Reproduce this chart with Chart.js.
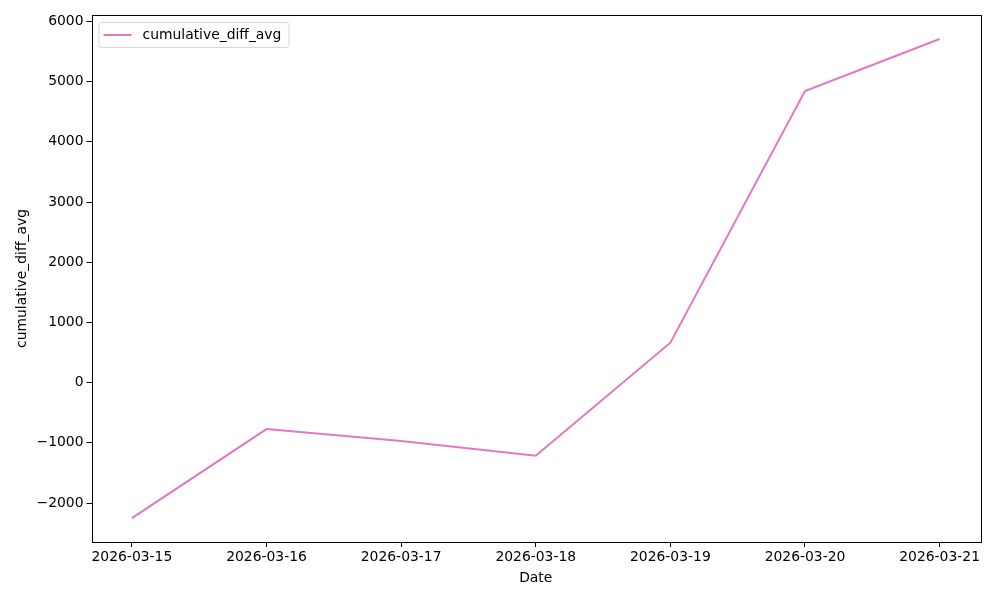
<!DOCTYPE html>
<html>
<head>
<meta charset="utf-8">
<script src="https://cdn.jsdelivr.net/npm/chart.js@4/dist/chart.umd.min.js"></script>
<style>
  html, body { margin: 0; padding: 0; background: #fff; }
  #wrap { width: 1000px; height: 600px; position: relative; }
</style>
</head>
<body>
<div id="wrap"><canvas id="c" width="1000" height="600"></canvas></div>
<script>
const dates = ['2026-03-15','2026-03-16','2026-03-17','2026-03-18','2026-03-19','2026-03-20','2026-03-21'];
const cumulativeDiffAvg = [-2249, -771, -970, -1213, 664, 4844, 5708];
const yTickValues = [-2000, -1000, 0, 1000, 2000, 3000, 4000, 5000, 6000];
const seriesLabel = 'cumulative_diff_avg';
const xTitle = 'Date';
const yTitle = 'cumulative_diff_avg';

const FONT = { family: '"DejaVu Sans", sans-serif', size: 13.9 };
const LINE_COLOR = '#e377c2';

const yLo = Math.min(...cumulativeDiffAvg), yHi = Math.max(...cumulativeDiffAvg);
const yPad = (yHi - yLo) * 0.05;
const xPad = (dates.length - 1) * 0.05;

const points = cumulativeDiffAvg.map((v, i) => ({ x: i, y: v }));

const framePlugin = {
  id: 'frame',
  afterDraw(chart) {
    const { ctx, chartArea: a } = chart;
    ctx.save();
    ctx.strokeStyle = '#000';
    ctx.lineWidth = 1;
    ctx.strokeRect(Math.round(a.left) + 0.5, Math.round(a.top) + 0.5, Math.round(a.right - a.left), Math.round(a.bottom - a.top));
    // legend
    const lx = a.left + 7, ly = a.top + 7, lw = 190, lh = 25;
    ctx.beginPath();
    if (ctx.roundRect) ctx.roundRect(lx + 0.5, ly + 0.5, lw, lh, 3); else ctx.rect(lx + 0.5, ly + 0.5, lw, lh);
    ctx.fillStyle = 'rgba(255,255,255,0.8)';
    ctx.fill();
    ctx.strokeStyle = '#d6d6d6';
    ctx.stroke();
    ctx.beginPath();
    ctx.strokeStyle = LINE_COLOR;
    ctx.lineWidth = 2;
    ctx.moveTo(lx + 5, ly + 13);
    ctx.lineTo(lx + 33, ly + 13);
    ctx.stroke();
    ctx.fillStyle = '#000';
    ctx.font = FONT.size + 'px ' + FONT.family;
    ctx.textBaseline = 'middle';
    ctx.textAlign = 'left';
    ctx.fillText(chart.data.datasets[0].label, lx + 44, ly + 13);
    ctx.restore();
  }
};

new Chart(document.getElementById('c'), {
  type: 'line',
  data: {
    datasets: [{
      label: seriesLabel,
      data: points,
      borderColor: LINE_COLOR,
      backgroundColor: LINE_COLOR,
      borderWidth: 2,
      pointRadius: 0,
      tension: 0,
      fill: false
    }]
  },
  options: {
    responsive: false,
    animation: false,
    devicePixelRatio: 1,
    layout: { padding: { left: 0, right: 20, top: 15, bottom: 0 } },
    plugins: { legend: { display: false }, tooltip: { enabled: false } },
    scales: {
      x: {
        type: 'linear',
        min: -xPad,
        max: dates.length - 1 + xPad,
        afterBuildTicks: s => { s.ticks = dates.map((d, i) => ({ value: i })); },
        afterFit: s => { s.height = 58; },
        ticks: {
          color: '#000', font: FONT, padding: 2, maxRotation: 0, autoSkip: false,
          callback: (v) => dates[v]
        },
        grid: { display: true, drawOnChartArea: false, drawTicks: true, tickLength: 5, tickColor: '#000', color: '#000' },
        border: { display: false },
        title: { display: true, text: xTitle, color: '#000', font: FONT, padding: { top: 0, bottom: 13 } }
      },
      y: {
        type: 'linear',
        min: yLo - yPad,
        max: yHi + yPad,
        afterBuildTicks: s => { s.ticks = yTickValues.map(v => ({ value: v })); },
        afterFit: s => { s.width = 91.5; },
        ticks: {
          color: '#000', font: FONT, padding: 3,
          callback: v => v < 0 ? '\u2212' + Math.abs(v) : String(v)
        },
        grid: { display: true, drawOnChartArea: false, drawTicks: true, tickLength: 5, tickColor: '#000', color: '#000' },
        border: { display: false },
        title: { display: true, text: yTitle, color: '#000', font: FONT, padding: { top: 14, bottom: 4 } }
      }
    }
  },
  plugins: [framePlugin]
});
</script>
</body>
</html>
